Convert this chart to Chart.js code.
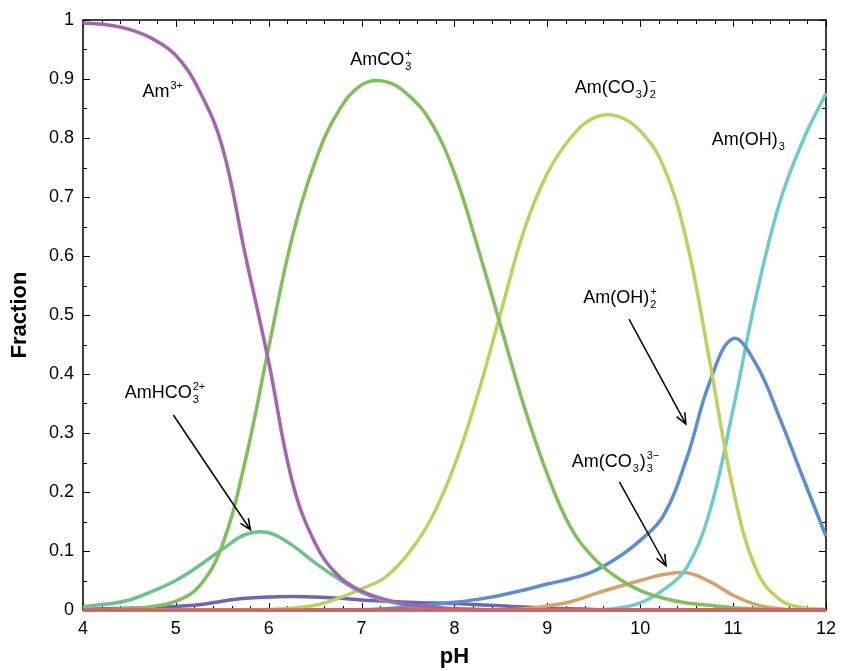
<!DOCTYPE html>
<html>
<head>
<meta charset="utf-8">
<title>Am speciation vs pH</title>
<script src="https://cdn.jsdelivr.net/npm/chart.js@4.4.1/dist/chart.umd.min.js"></script>
<style>
  html, body { margin: 0; padding: 0; background: #fff; }
  canvas { display: block; }
</style>
</head>
<body>
<canvas id="speciation" width="844" height="671"></canvas>
<script>
// pH grid and species fractions
const ph = [4, 4.25, 4.5, 4.75, 5, 5.25, 5.5, 5.75, 6, 6.25, 6.5, 6.75, 7, 7.25, 7.5, 7.75, 8,
            8.25, 8.5, 8.75, 9, 9.25, 9.5, 9.75, 10, 10.25, 10.5, 10.75, 11, 11.25, 11.5, 11.75, 12];

const am3 = [0.995, 0.992, 0.984, 0.968, 0.94, 0.881, 0.785, 0.60, 0.42, 0.22, 0.113, 0.058, 0.032, 0.018, 0.009, 0.005, 0.002,
             0.001, 0, 0, 0, 0, 0, 0, 0, 0, 0, 0, 0, 0, 0, 0, 0];
const amCO3 = [0, 0.001, 0.002, 0.006, 0.015, 0.04, 0.11, 0.255, 0.445, 0.63, 0.76, 0.845, 0.89, 0.896, 0.873, 0.826, 0.74,
               0.615, 0.48, 0.345, 0.23, 0.14, 0.088, 0.055, 0.033, 0.02, 0.012, 0.008, 0.004, 0.002, 0, 0, 0];
const amHCO3 = [0.006, 0.01, 0.017, 0.032, 0.05, 0.075, 0.103, 0.128, 0.131, 0.11, 0.08, 0.053, 0.03, 0.016, 0.008, 0.004, 0.002,
                0.001, 0, 0, 0, 0, 0, 0, 0, 0, 0, 0, 0, 0, 0, 0, 0];
const amCO3_2 = [0, 0, 0, 0, 0, 0, 0, 0, 0.001, 0.003, 0.008, 0.02, 0.036, 0.055, 0.095, 0.155, 0.245,
                 0.365, 0.505, 0.644, 0.74, 0.80, 0.834, 0.837, 0.812, 0.752, 0.625, 0.42, 0.205, 0.068, 0.018, 0.004, 0.001];
const amOH2 = [0, 0, 0, 0, 0, 0, 0, 0, 0, 0, 0, 0, 0, 0.002, 0.005, 0.009, 0.013,
               0.018, 0.025, 0.034, 0.044, 0.053, 0.066, 0.088, 0.118, 0.16, 0.257, 0.387, 0.46, 0.416, 0.326, 0.225, 0.125];
const amOH3 = [0, 0, 0, 0, 0, 0, 0, 0, 0, 0, 0, 0, 0, 0, 0, 0, 0,
               0, 0, 0, 0, 0, 0, 0.003, 0.012, 0.034, 0.072, 0.168, 0.34, 0.533, 0.69, 0.795, 0.876];
const amCO3_3 = [0, 0, 0, 0, 0, 0, 0, 0, 0, 0, 0, 0, 0, 0, 0, 0, 0,
                 0, 0, 0.002, 0.007, 0.014, 0.027, 0.039, 0.05, 0.06, 0.063, 0.048, 0.025, 0.009, 0.002, 0, 0];
const amOH = [0.001, 0.002, 0.003, 0.004, 0.006, 0.009, 0.015, 0.02, 0.022, 0.023, 0.022, 0.02, 0.017, 0.015, 0.013, 0.012, 0.011,
              0.009, 0.007, 0.005, 0.003, 0.002, 0.001, 0, 0, 0, 0, 0, 0, 0, 0, 0, 0];
const minor = [0, 0, 0, 0, 0, 0, 0, 0, 0, 0, 0, 0, 0, 0, 0, 0, 0,
               0, 0, 0, 0, 0, 0, 0, 0, 0, 0, 0, 0, 0, 0, 0, 0];

const xTicks = [4, 5, 6, 7, 8, 9, 10, 11, 12];
const yTicks = [0, 0.1, 0.2, 0.3, 0.4, 0.5, 0.6, 0.7, 0.8, 0.9, 1];

// species labels: text parts, anchor (pH, fraction) of the baseline start
const speciesLabels = [
  { parts: ['Am', { sup: '3+' }], at: [4.64, 0.87] },
  { parts: ['AmCO', { sub: '3', sup: '+' }], at: [6.877, 0.924] },
  { parts: ['Am(CO', { sub: '3' }, ')', { sub: '2', sup: '\u2212' }], at: [9.294, 0.876] },
  { parts: ['Am(OH)', { sub: '3' }], at: [10.77, 0.788] },
  { parts: ['Am(OH)', { sub: '2', sup: '+' }], at: [9.386, 0.52] },
  { parts: ['AmHCO', { sub: '3', sup: '2+' }], at: [4.449, 0.359] },
  { parts: ['Am(CO', { sub: '3' }, ')', { sub: '3', sup: '3\u2212' }], at: [9.262, 0.242] }
];

// arrows: from -> to, in (pH, fraction)
const arrows = [
  [[4.973, 0.3305], [5.804, 0.1356]],
  [[9.879, 0.493], [10.492, 0.315]],
  [[9.775, 0.217], [10.278, 0.075]]
];

const series = [
  { label: 'minor', values: minor, color: '#d3625d' },
  { label: 'Am3+', values: am3, color: '#a663b1' },
  { label: 'AmCO3+', values: amCO3, color: '#80c05b' },
  { label: 'AmHCO3 2+', values: amHCO3, color: '#6cc288' },
  { label: 'Am(CO3)2-', values: amCO3_2, color: '#bdd15c' },
  { label: 'Am(OH)2+', values: amOH2, color: '#5b8fd2' },
  { label: 'Am(OH)3', values: amOH3, color: '#6ecacd' },
  { label: 'Am(CO3)3 3-', values: amCO3_3, color: '#d8a168' },
  { label: 'AmOH2+', values: amOH, color: '#6a67b4' }
];

const FONT = '"Liberation Sans", Arial, Helvetica, sans-serif';

// box, inward tick marks on all four sides
const frameTicks = {
  id: 'frameTicks',
  beforeDatasetsDraw(chart) {
    const { ctx, chartArea: a, scales: { x, y } } = chart;
    ctx.save();
    ctx.strokeStyle = '#000';
    ctx.lineWidth = 1;
    ctx.beginPath();
    for (let i = 0; i <= 40; i++) {
      const px = Math.round(x.getPixelForValue(4 + i * 0.2)) + 0.5;
      const len = i % 5 === 0 ? 7 : 4;
      ctx.moveTo(px, a.bottom); ctx.lineTo(px, a.bottom - len);
      ctx.moveTo(px, a.top); ctx.lineTo(px, a.top + len);
    }
    for (let i = 0; i <= 20; i++) {
      const py = Math.round(y.getPixelForValue(i * 0.05)) + 0.5;
      const len = i % 2 === 0 ? 7 : 4;
      ctx.moveTo(a.left, py); ctx.lineTo(a.left + len, py);
      ctx.moveTo(a.right, py); ctx.lineTo(a.right - len, py);
    }
    ctx.stroke();
    ctx.lineWidth = 1.5;
    ctx.strokeRect(a.left, a.top, a.right - a.left, a.bottom - a.top);
    ctx.restore();
  }
};

function drawFormula(ctx, parts, x, y) {
  let cx = x;
  for (const p of parts) {
    if (typeof p === 'string') {
      ctx.font = '18px ' + FONT;
      ctx.fillText(p, cx, y);
      cx += ctx.measureText(p).width;
    } else {
      ctx.font = '11px ' + FONT;
      let w = 0;
      if (p.sub) {
        ctx.fillText(p.sub, cx + 1, y + 5);
        w = Math.max(w, ctx.measureText(p.sub).width);
      }
      if (p.sup) {
        ctx.fillText(p.sup, cx + 1, y - 8);
        w = Math.max(w, ctx.measureText(p.sup).width);
      }
      cx += w + 2;
    }
  }
}

const annotations = {
  id: 'annotations',
  afterDatasetsDraw(chart) {
    const { ctx, scales: { x, y } } = chart;
    ctx.save();
    ctx.fillStyle = '#000';
    ctx.textBaseline = 'alphabetic';
    ctx.textAlign = 'left';
    for (const l of speciesLabels) {
      drawFormula(ctx, l.parts, x.getPixelForValue(l.at[0]), y.getPixelForValue(l.at[1]));
    }
    ctx.strokeStyle = '#000';
    ctx.lineWidth = 1.5;
    for (const [from, to] of arrows) {
      const x0 = x.getPixelForValue(from[0]), y0 = y.getPixelForValue(from[1]);
      const x1 = x.getPixelForValue(to[0]), y1 = y.getPixelForValue(to[1]);
      const ang = Math.atan2(y1 - y0, x1 - x0);
      ctx.beginPath();
      ctx.moveTo(x0, y0); ctx.lineTo(x1, y1);
      ctx.moveTo(x1 - 12 * Math.cos(ang - 0.4), y1 - 12 * Math.sin(ang - 0.4));
      ctx.lineTo(x1, y1);
      ctx.lineTo(x1 - 12 * Math.cos(ang + 0.4), y1 - 12 * Math.sin(ang + 0.4));
      ctx.stroke();
    }
    ctx.restore();
  }
};

new Chart(document.getElementById('speciation'), {
  type: 'line',
  data: {
    datasets: series.map(s => ({
      label: s.label,
      data: ph.map((v, i) => ({ x: v, y: s.values[i] })),
      borderColor: s.color,
      borderWidth: 3.5,
      pointRadius: 0,
      tension: 0.4,
      clip: 4,
      fill: false
    }))
  },
  options: {
    responsive: false,
    animation: false,
    devicePixelRatio: 1,
    layout: { padding: { left: 0, right: 12, top: 20, bottom: 0 } },
    plugins: { legend: { display: false }, tooltip: { enabled: false } },
    scales: {
      x: {
        type: 'linear',
        min: 4,
        max: 12,
        grid: { display: false, drawTicks: false },
        border: { display: false },
        afterFit: s => { s.height = 61; },
        afterBuildTicks: s => { s.ticks = xTicks.map(v => ({ value: v })); },
        ticks: { color: '#000', padding: 8, font: { family: FONT, size: 18 } },
        title: { display: true, text: 'pH', color: '#000', padding: { top: 0, bottom: 1 },
                 font: { family: FONT, size: 22, weight: 'bold' } }
      },
      y: {
        min: 0,
        max: 1,
        grid: { display: false, drawTicks: false },
        border: { display: false },
        afterFit: s => { s.width = 83; },
        afterBuildTicks: s => { s.ticks = yTicks.map(v => ({ value: v })); },
        ticks: { color: '#000', padding: 9, font: { family: FONT, size: 18 },
                 callback: v => String(Math.round(v * 10) / 10) },
        title: { display: true, text: 'Fraction', color: '#000', padding: { top: 7, bottom: 0 },
                 font: { family: FONT, size: 22, weight: 'bold' } }
      }
    }
  },
  plugins: [frameTicks, annotations]
});
</script>
</body>
</html>
